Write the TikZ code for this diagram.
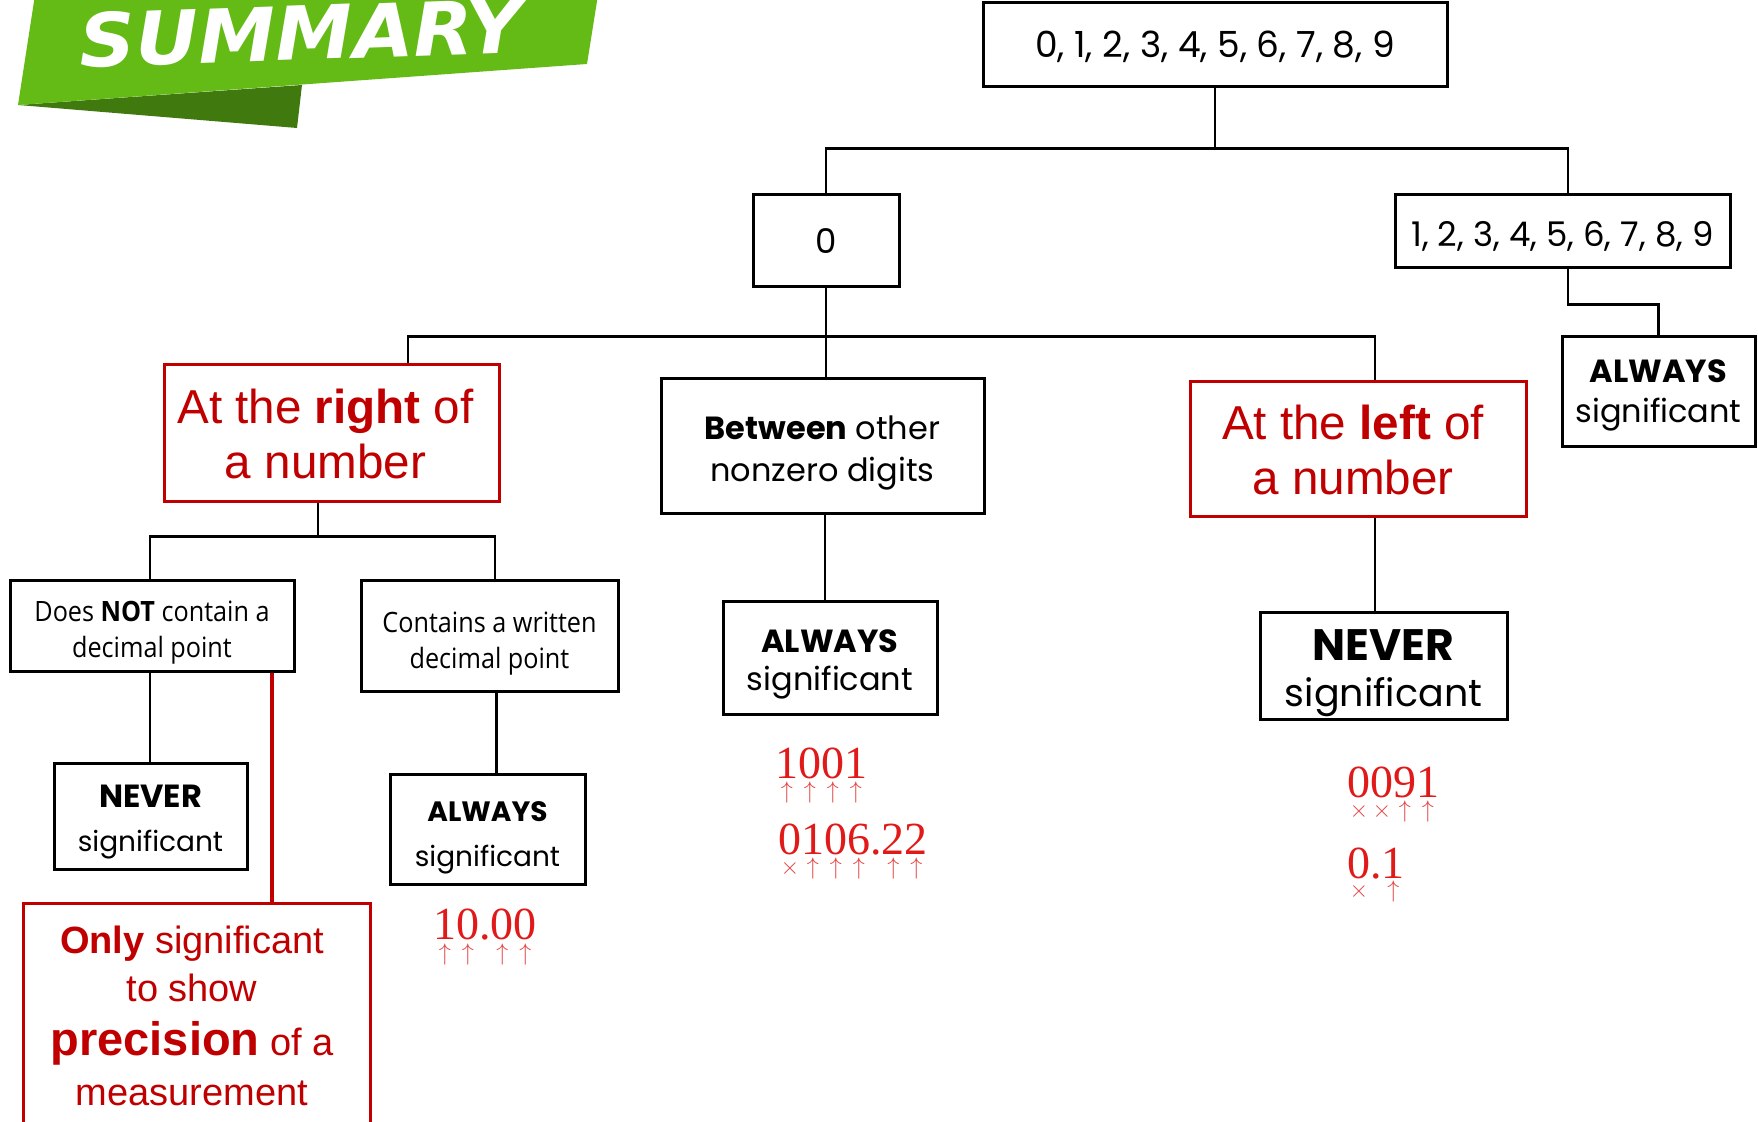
\documentclass[tikz,border=0pt]{standalone}
\usepackage{fontspec}
\setmainfont{Liberation Sans}
\newfontfamily\popf{Poppins}
\newfontfamily\condf{Open Sans}[FakeStretch=0.9]
\newfontfamily\serf{Liberation Serif}
\newfontfamily\banf{DejaVu Sans}
\usetikzlibrary{calc}
\definecolor{boxred}{RGB}{192,0,0}
\definecolor{numred}{RGB}{225,25,25}
\definecolor{mkred}{RGB}{228,70,70}
\definecolor{gLight}{RGB}{100,187,22}
\definecolor{gDark}{RGB}{64,122,14}
\newcommand\mU{\makebox[11.5pt]{$\uparrow$}}
\newcommand\mX{\makebox[11.5pt]{$\times$}}
\newcommand\mD{\makebox[5.75pt]{}}
\begin{document}
\begin{tikzpicture}[x=0.5pt,y=-0.5pt,
  bbox/.style={draw=black, line width=1.5pt, inner sep=0pt},
  rbox/.style={draw=boxred, line width=1.5pt, inner sep=0pt},
  bt/.style={align=center, inner sep=0pt, text=black},
  rt/.style={align=center, inner sep=0pt, text=boxred, font=\fontsize{23.8}{27.5}\selectfont},
  conn/.style={line width=1.4pt, draw=black},
  redline/.style={line width=2pt, draw=boxred},
  num/.style={inner sep=0pt, anchor=base west, text=numred, font=\serf\fontsize{23}{23}\selectfont},
  mk/.style={inner sep=0pt, anchor=base west, text=mkred, font=\fontsize{12}{12}\selectfont},
  rtxt/.style={inner sep=0pt, anchor=base, text=boxred}]
\fill[white] (0,0) rectangle (1758,1122);
\useasboundingbox (0,0) rectangle (1758,1122);

% banner
\fill[gDark] (18,105) -- (302,85) -- (297,128) -- cycle;
\fill[gLight] (35,-5) -- (598,-5) -- (587,64) -- (18,105) -- cycle;
\node[inner sep=0pt, anchor=base, rotate=2, text=white, font=\banf\bfseries\itshape\fontsize{37}{37}\selectfont] (sum) at (302,60) {\scalebox{1.05}[1]{SUMMARY}};

% boxes
\node[bbox, minimum width=232pt, minimum height=42pt, label={[bt, yshift=-1pt, font=\popf\fontsize{18}{20}\selectfont]center:{0, 1, 2, 3, 4, 5, 6, 7, 8, 9}}] (top) at (1215,45) {};
\node[bbox, minimum width=73pt, minimum height=46pt, label={[bt, font=\popf\fontsize{17}{20}\selectfont]center:0}] (zero) at (826,241) {};
\node[bbox, minimum width=167.5pt, minimum height=36.5pt, label={[bt, yshift=-2.5pt, font=\popf\fontsize{17}{19}\selectfont]center:{1, 2, 3, 4, 5, 6, 7, 8, 9}}] (nonzero) at (1562.5,231.5) {};
\node[bbox, minimum width=96.5pt, minimum height=55pt, label={[bt, yshift=-1.5pt, font=\popf\fontsize{16}{20}\selectfont]center:{{\bfseries ALWAYS}\\significant}}] (alwR) at (1658.5,392) {};
\node[rbox, minimum width=167.5pt, minimum height=68.5pt, label={[rt, xshift=-3pt]center:{At the {\bfseries right} of\\a number}}] (redR) at (331.5,433.5) {};
\node[bbox, minimum width=161.5pt, minimum height=67.5pt, label={[bt, yshift=-3.3pt, font=\popf\fontsize{16}{21.3}\selectfont]center:{{\bfseries Between} other\\nonzero digits}}] (betw) at (822.5,446.5) {};
\node[rbox, minimum width=168pt, minimum height=67.5pt, label={[rt, xshift=-2.5pt]center:{At the {\bfseries left} of\\a number}}] (redL) at (1358,449.5) {};
\node[bbox, minimum width=142pt, minimum height=45.5pt, label={[bt, yshift=-3pt, font=\condf\fontsize{14}{18}\selectfont]center:{Does {\bfseries NOT} contain a\\decimal point}}] (dnot) at (152,626.5) {};
\node[bbox, minimum width=128.5pt, minimum height=55.5pt, label={[bt, yshift=-3.5pt, font=\condf\fontsize{14}{18}\selectfont]center:{Contains a written\\decimal point}}] (cont) at (489.5,636.5) {};
\node[bbox, minimum width=96.5pt, minimum height=53pt, label={[bt, yshift=-2.5pt, font=\popf\fontsize{14}{22}\selectfont]center:{{\fontsize{16}{22}\selectfont\bfseries NEVER}\\significant}}] (nevL) at (150.5,817) {};
\node[bbox, minimum width=97.5pt, minimum height=55pt, label={[bt, yshift=-4pt, font=\popf\fontsize{14}{22.5}\selectfont]center:{{\bfseries ALWAYS}\\significant}}] (alwC) at (487.5,830) {};
\node[bbox, minimum width=107pt, minimum height=56.5pt, label={[bt, yshift=-3pt, font=\popf\fontsize{16}{19}\selectfont]center:{{\bfseries ALWAYS}\\significant}}] (alwB) at (830,658.5) {};
\node[bbox, minimum width=123.5pt, minimum height=53.5pt, label={[bt, yshift=-3.5pt, font=\popf\fontsize{19}{23}\selectfont]center:{{\fontsize{22}{23}\selectfont\bfseries NEVER}\\significant}}] (nevR) at (1383.5,666.5) {};
\node[rbox, minimum width=173.5pt, minimum height=115pt] (only) at (196.5,1019) {};
\node[rtxt, font=\fontsize{19}{19}\selectfont] (o1) at (192,953) {{\bfseries Only} significant};
\node[rtxt, font=\fontsize{19}{19}\selectfont] (o2) at (192,1001) {to show};
\node[rtxt, font=\fontsize{19}{19}\selectfont] (o3) at (192,1055) {{\fontsize{23.5}{24}\selectfont\bfseries precision} of a};
\node[rtxt, font=\fontsize{19}{19}\selectfont] (o4) at (192,1105) {measurement};

% connectors
\draw[conn] (top.south) -- ++(0,60) coordinate (j1);
\coordinate (nzn) at ($(nonzero.north)+(5.5,0)$);
\draw[conn] (zero.north) |- (j1) -| (nzn);
\coordinate (nzs) at ($(nonzero.south)+(5.5,0)$);
\draw[conn] (nzs) -- ++(0,35) -| (alwR.north);
\draw[conn] (zero.south) -- (zero.south |- betw.north);
\coordinate (j2) at ($(zero.south)+(0,48)$);
\coordinate (rRn) at ($(redR.north)+(76.5,0)$);
\coordinate (rLn) at ($(redL.north)+(17,0)$);
\draw[conn] (rRn) |- (j2) -| (rLn);
\coordinate (rRs) at ($(redR.south)+(-13.5,0)$);
\draw[conn] (rRs) -- ++(0,33) coordinate (j3);
\coordinate (dn) at ($(dnot.north)+(-2,0)$);
\coordinate (cn) at ($(cont.north)+(5.5,0)$);
\draw[conn] (dn) |- (j3) -| (cn);
\coordinate (ds) at ($(dnot.south)+(-2,0)$);
\draw[conn] (ds) -- (ds |- nevL.north);
\coordinate (cs) at ($(cont.south)+(7,0)$);
\draw[conn] (cs) -- (cs |- alwC.north);
\coordinate (bs) at ($(betw.south)+(2.5,0)$);
\draw[conn] (bs) -- (bs |- alwB.north);
\coordinate (rLs) at ($(redL.south)+(17,0)$);
\draw[conn] (rLs) -- (rLs |- nevR.north);
\coordinate (dr) at ($(dnot.south)+(120,0)$);
\draw[redline] (dr) -- (dr |- only.north);

% numeric examples
\node[num] (n1) at (775,779) {1001};
\node[mk] (m1) at (775,799) {\mU\mU\mU\mU};
\node[num] (n2) at (778,855) {0106.22};
\node[mk] (m2) at (778,875) {\mX\mU\mU\mU\mD\mU\mU};
\node[num] (n3) at (433,940) {10.00};
\node[mk] (m3) at (433,960) {\mU\mU\mD\mU\mU};
\node[num] (n4) at (1347,798) {0091};
\node[mk] (m4) at (1347,818) {\mX\mX\mU\mU};
\node[num] (n5) at (1347,878) {0.1};
\node[mk] (m5) at (1347,898) {\mX\mD\mU};
\end{tikzpicture}
\end{document}
